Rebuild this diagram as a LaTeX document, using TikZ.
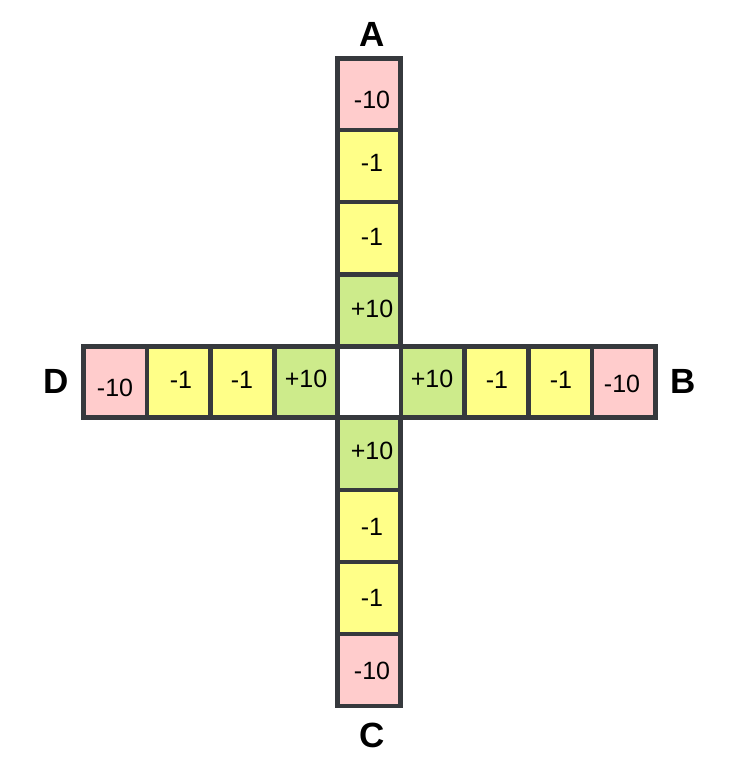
\documentclass[tikz,border=0pt]{standalone}
\usepackage{fontspec}
\setmainfont{Liberation Sans}
\definecolor{pinkc}{HTML}{FFCCCC}
\definecolor{yelc}{HTML}{FFFF88}
\definecolor{grnc}{HTML}{CDEB8B}
\definecolor{edgec}{HTML}{36393D}
\begin{document}
\begin{tikzpicture}[x=1pt,y=-1pt,
  cellv/.style={draw=edgec,line width=4.5pt,minimum width=63pt,minimum height=72pt,inner sep=0pt,outer sep=0pt},
  cellh/.style={draw=edgec,line width=4.5pt,minimum width=63.6pt,minimum height=71pt,inner sep=0pt,outer sep=0pt},
  val/.style={font=\fontsize{25}{28}\selectfont,inner sep=0pt,anchor=center},
  lab/.style={font=\fontsize{35}{40}\selectfont\bfseries,inner sep=0pt,anchor=center}]
\useasboundingbox (0,0) rectangle (731,777);
% vertical column
\node[cellv,fill=pinkc] (a1) at (369,94.25) {};
\node[cellv,fill=yelc] (a2) at (369,166) {};
\node[cellv,fill=yelc] (a3) at (369,238) {};
\node[cellv,fill=grnc] (a4) at (369,310.25) {};
\node[cellv,fill=grnc] (c4) at (369,453.75) {};
\node[cellv,fill=yelc] (c3) at (369,526) {};
\node[cellv,fill=yelc] (c2) at (369,598) {};
\node[cellv,fill=pinkc] (c1) at (369,669.75) {};
% horizontal row
\node[cellh,fill=pinkc] (d1) at (115.3,382) {};
\node[cellh,fill=yelc] (d2) at (178.9,382) {};
\node[cellh,fill=yelc] (d3) at (242.5,382) {};
\node[cellh,fill=grnc] (d4) at (306.1,382) {};
\node[cellh,fill=white] (ctr) at (369.5,382) {};
\node[cellh,fill=grnc] (b4) at (432.9,382) {};
\node[cellh,fill=yelc] (b3) at (496.5,382) {};
\node[cellh,fill=yelc] (b2) at (560.1,382) {};
\node[cellh,fill=pinkc] (b1) at (623.7,382) {};
% values
\node[val] at (372,100) {-10};
\node[val] at (372,163) {-1};
\node[val] at (372,237) {-1};
\node[val] at (372,309) {+10};
\node[val] at (372,451) {+10};
\node[val] at (372,527) {-1};
\node[val] at (372,598) {-1};
\node[val] at (372,671) {-10};
\node[val] at (115,388) {-10};
\node[val] at (181,380) {-1};
\node[val] at (242,380) {-1};
\node[val] at (306,379) {+10};
\node[val] at (432,379) {+10};
\node[val] at (497,380) {-1};
\node[val] at (561,380) {-1};
\node[val] at (622,384) {-10};
% labels
\node[lab] (A) at (372,34) {A};
\node[lab] (B) at (683,381) {B};
\node[lab] (C) at (372,735) {C};
\node[lab] (D) at (56,381) {D};
\end{tikzpicture}
\end{document}
